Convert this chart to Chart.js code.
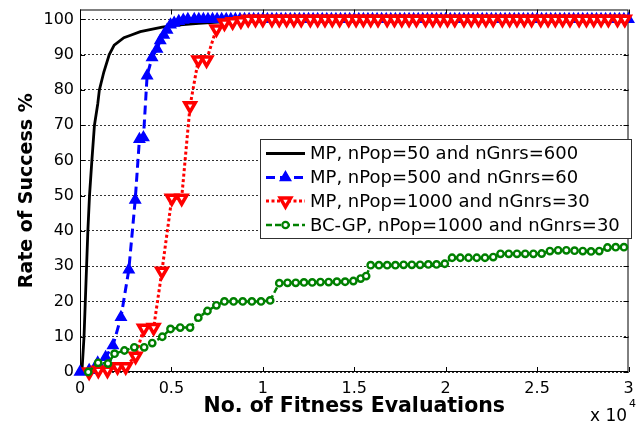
<!DOCTYPE html>
<html><head><meta charset="utf-8">
<script src="https://cdn.jsdelivr.net/npm/chart.js@4"></script>
<style>html,body{margin:0;padding:0;background:#fff;overflow:hidden}</style>
</head><body>
<canvas id="c" width="638" height="426"></canvas>
<script>
const xTickLabels = ['0','0.5','1','1.5','2','2.5','3'];
const yTickLabels = ['0','10','20','30','40','50','60','70','80','90','100'];
const xTitle = 'No. of Fitness Evaluations';
const yTitle = 'Rate of Success %';
const xExponent = ['x 10', '4'];
const seriesNames = ['MP, nPop=50 and nGnrs=600','MP, nPop=500 and nGnrs=60','MP, nPop=1000 and nGnrs=30','BC-GP, nPop=1000 and nGnrs=30'];

const blackX = [0,0.011,0.022,0.029,0.036,0.043,0.052,0.065,0.079,0.097,0.106,0.13,0.16,0.187,0.24,0.277,0.33,0.383,0.45,0.53,0.65,0.8,1.0,1.2,3.0];
const blackY = [0,0.5,10,20,30,40,50,60,70,76,80,85,90,92.7,94.8,95.5,96.5,97.1,97.8,98.4,98.9,99.4,99.8,100,100];

const blueX = [0,0.05,0.097,0.14,0.18,0.224,0.267,0.302,0.325,0.347,0.367,0.394,0.421,0.439,0.458,0.476,0.495,0.515,0.54,0.565,0.59,
0.625,0.65,0.675,0.7,0.725,0.75,0.775,0.8,0.825,0.85,
0.875,0.9,0.925,0.95,0.975,1.0,1.025,1.05,1.075,1.1,
1.125,1.15,1.175,1.2,1.225,1.25,1.275,1.3,1.325,1.35,
1.375,1.4,1.425,1.45,1.475,1.5,1.525,1.55,1.575,1.6,
1.625,1.65,1.675,1.7,1.725,1.75,1.775,1.8,1.825,1.85,
1.875,1.9,1.925,1.95,1.975,2.0,2.025,2.05,2.075,2.1,
2.125,2.15,2.175,2.2,2.225,2.25,2.275,2.3,2.325,2.35,
2.375,2.4,2.425,2.45,2.475,2.5,2.525,2.55,2.575,2.6,
2.625,2.65,2.675,2.7,2.725,2.75,2.775,2.8,2.825,2.85,
2.875,2.9,2.925,2.95,2.975,3.0];
const blueY = [0,0.5,2.6,4.2,7.5,15.5,29,48.8,66,66.5,84,89.2,91.6,94,95.6,97,98.5,99,99.5,99.8,100,
100,100,100,100,100,100,100,100,100,100,
100,100,100,100,100,100,100,100,100,100,
100,100,100,100,100,100,100,100,100,100,
100,100,100,100,100,100,100,100,100,100,
100,100,100,100,100,100,100,100,100,100,
100,100,100,100,100,100,100,100,100,100,
100,100,100,100,100,100,100,100,100,100,
100,100,100,100,100,100,100,100,100,100,
100,100,100,100,100,100,100,100,100,100,
100,100,100,100,100,100];

const redX = [0.05,0.1,0.15,0.205,0.25,0.304,0.349,0.403,0.448,0.502,0.556,0.602,0.647,0.692,0.746,0.79,0.835,0.88,
0.92,0.96,1.00,1.05,1.09,1.13,1.17,1.21,1.26,1.30,
1.34,1.38,1.42,1.47,1.51,1.55,1.59,1.63,1.68,1.72,
1.76,1.80,1.84,1.89,1.93,1.97,2.01,2.05,2.10,2.14,
2.18,2.22,2.26,2.31,2.35,2.39,2.43,2.47,2.52,2.56,
2.60,2.64,2.68,2.73,2.77,2.81,2.85,2.89,2.94,2.98];
const redY = [0,0.5,0.5,1.5,1.5,4.5,12.4,12.6,28.6,49.3,49.3,75.5,88.5,88.5,97.3,99,99.3,99.6,
100,100,100,100,100,100,100,100,100,100,
100,100,100,100,100,100,100,100,100,100,
100,100,100,100,100,100,100,100,100,100,
100,100,100,100,100,100,100,100,100,100,
100,100,100,100,100,100,100,100,100,100];

const greenX = [0.045,0.099,0.153,0.189,0.243,0.297,0.351,0.395,0.45,0.495,0.548,0.602,0.647,0.697,0.746,0.79,0.84,0.89,0.94,0.99,
1.04,1.09,1.135,1.18,1.225,1.27,1.315,1.36,1.405,1.45,1.495,1.535,1.565,1.59,1.635,1.68,1.725,1.77,1.815,1.86,
1.905,1.95,1.995,2.035,2.08,2.125,2.17,2.215,2.26,2.3,2.345,2.39,2.435,2.48,2.525,2.57,2.615,2.66,2.705,2.75,
2.795,2.84,2.885,2.93,2.975];
const greenY = [0,2.6,2.4,5.2,6.1,7,7,8.2,10,12.2,12.6,12.6,15.4,17.3,18.9,20,20,20,20,20,
20.3,25.2,25.3,25.3,25.4,25.4,25.5,25.5,25.6,25.6,25.8,26.5,27.2,30.3,30.3,30.3,30.3,30.4,30.4,30.4,
30.5,30.5,30.7,32.4,32.4,32.4,32.4,32.4,32.6,33.5,33.5,33.5,33.5,33.5,33.6,34.3,34.5,34.5,34.4,34.3,
34.2,34.3,35.3,35.4,35.4];

const zip = (xs, ys) => xs.map((v, i) => ({x: v, y: ys[i]}));
const FONT = 'DejaVu Sans';
Chart.defaults.font.family = FONT;
Chart.defaults.color = '#000';

function drawTri(ctx, x, y, r, down, fill, stroke, lw) {
  ctx.beginPath();
  const s = down ? -1 : 1;
  ctx.moveTo(x, y - s * r);
  ctx.lineTo(x + r * 0.866, y + s * r * 0.5);
  ctx.lineTo(x - r * 0.866, y + s * r * 0.5);
  ctx.closePath();
  ctx.fillStyle = fill; ctx.fill();
  ctx.lineWidth = lw; ctx.strokeStyle = stroke; ctx.setLineDash([]); ctx.stroke();
}

const framePlugin = {
  id: 'frame',
  beforeDatasetsDraw(chart) {
    const {ctx, chartArea: a, scales: {x, y}} = chart;
    ctx.save();
    ctx.strokeStyle = '#000'; ctx.lineWidth = 1; ctx.setLineDash([]);
    ctx.strokeRect(a.left + 0.5, a.top + 0.5, a.right - a.left - 1, a.bottom - a.top - 1);
    ctx.beginPath();
    x.ticks.forEach(t => {
      const px = Math.round(x.getPixelForValue(t.value)) + 0.5;
      ctx.moveTo(px, a.bottom); ctx.lineTo(px, a.bottom - 5);
      ctx.moveTo(px, a.top); ctx.lineTo(px, a.top + 5);
    });
    y.ticks.forEach(t => {
      const py = Math.round(y.getPixelForValue(t.value)) + 0.5;
      ctx.moveTo(a.left, py); ctx.lineTo(a.left + 5, py);
      ctx.moveTo(a.right, py); ctx.lineTo(a.right - 5, py);
    });
    ctx.stroke();
    ctx.restore();
  },
  afterDraw(chart) {
    const ctx = chart.ctx;
    ctx.save();
    const L = 260, T = 139, R = 631, B = 238;
    ctx.fillStyle = '#fff';
    ctx.fillRect(L, T, R - L, B - T);
    ctx.strokeStyle = '#303030'; ctx.lineWidth = 1; ctx.setLineDash([]);
    ctx.strokeRect(L + 0.5, T + 0.5, R - L, B - T);
    const rows = [153.5, 177.5, 201, 225];
    const ds = chart.data.datasets;
    ctx.font = '18px "' + FONT + '"';
    ctx.textBaseline = 'middle'; ctx.textAlign = 'left';
    rows.forEach((ry, i) => {
      const d = ds[i];
      ctx.beginPath();
      ctx.strokeStyle = d.borderColor; ctx.lineWidth = d.borderWidth;
      ctx.setLineDash(d.borderDash || []);
      ctx.moveTo(266, ry); ctx.lineTo(305, ry); ctx.stroke();
      if (i === 1) drawTri(ctx, 285.5, ry, 6, false, '#0000ff', '#0000ff', 1.5);
      if (i === 2) drawTri(ctx, 285.5, ry, 6, true, '#fff', '#ff0000', 3.5);
      if (i === 3) {
        ctx.beginPath(); ctx.setLineDash([]);
        ctx.arc(285.5, ry, 3.2, 0, Math.PI * 2);
        ctx.fillStyle = '#fff'; ctx.fill();
        ctx.strokeStyle = '#008000'; ctx.lineWidth = 2.2; ctx.stroke();
      }
      ctx.fillStyle = '#000';
      ctx.fillText(seriesNames[i], 310, ry + 1);
    });
    ctx.fillStyle = '#000';
    ctx.textBaseline = 'alphabetic';
    ctx.font = '17px "' + FONT + '"';
    ctx.fillText(xExponent[0], 590, 421);
    ctx.font = '11px "' + FONT + '"';
    ctx.fillText(xExponent[1], 629, 407);
    ctx.restore();
  }
};

new Chart(document.getElementById('c'), {
  type: 'line',
  data: {
    datasets: [
      { label: seriesNames[0], data: zip(blackX, blackY), borderColor: '#000000', borderWidth: 2.8,
        pointRadius: 0, tension: 0, order: 3, clip: false },
      { label: seriesNames[1], data: zip(blueX, blueY), borderColor: '#0000ff', borderWidth: 3, borderDash: [9, 5],
        pointStyle: 'triangle', pointRadius: 6, pointBackgroundColor: '#0000ff', pointBorderColor: '#0000ff', pointBorderWidth: 1.5,
        tension: 0, order: 2, clip: false },
      { label: seriesNames[2], data: zip(redX, redY), borderColor: '#ff0000', borderWidth: 3, borderDash: [3, 2.5],
        pointStyle: 'triangle', pointRotation: 180, pointRadius: 6, pointBackgroundColor: '#ffffff', pointBorderColor: '#ff0000', pointBorderWidth: 3.5,
        tension: 0, order: 1, clip: false },
      { label: seriesNames[3], data: zip(greenX, greenY), borderColor: '#008000', borderWidth: 2.5, borderDash: [6, 3],
        pointStyle: 'circle', pointRadius: 3.2, pointBackgroundColor: '#ffffff', pointBorderColor: '#008000', pointBorderWidth: 2.4,
        tension: 0, order: 0, clip: false }
    ]
  },
  options: {
    responsive: false,
    animation: false,
    devicePixelRatio: 1,
    layout: { padding: { left: 0, right: 3, top: 4, bottom: 0 } },
    plugins: { legend: { display: false }, tooltip: { enabled: false } },
    scales: {
      x: {
        type: 'linear', min: 0, max: 3,
        grid: { display: false, drawTicks: false },
        border: { display: false },
        ticks: { stepSize: 0.5, padding: 7, maxRotation: 0, autoSkip: false, includeBounds: false,
          font: { size: 16 }, color: '#000',
          callback: (v, i) => xTickLabels[i] },
        title: { display: true, text: xTitle, font: { size: 20.5, weight: 'bold' }, color: '#000',
          padding: { top: 0, bottom: 7 } },
        afterFit: s => { s.height = 54; s.paddingLeft = 0; s.paddingRight = 0; }
      },
      y: {
        type: 'linear', min: 0, max: 102.8,
        grid: { display: true, drawTicks: false, color: '#333', lineWidth: 1 },
        border: { display: false, dash: [2, 2] },
        ticks: { stepSize: 10, padding: 6, autoSkip: false, includeBounds: false,
          font: { size: 16 }, color: '#000',
          callback: (v, i) => yTickLabels[i] },
        afterBuildTicks: s => { s.ticks = s.ticks.filter(t => t.value <= 100); },
        title: { display: true, text: yTitle, font: { size: 19, weight: 'bold' }, color: '#000',
          padding: { top: 16, bottom: 0 } },
        afterFit: s => { s.width = 80; s.paddingTop = 0; s.paddingBottom = 0; }
      }
    }
  },
  plugins: [framePlugin]
});
</script>
</body></html>
